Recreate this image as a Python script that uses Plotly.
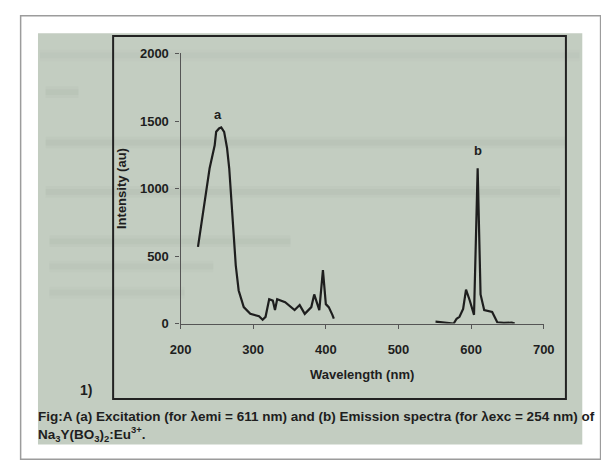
import plotly.graph_objects as go

# Excitation spectrum (a)
exc_wavelength = [224, 231, 240, 247, 249, 253, 256, 260, 264, 267, 271, 276, 280, 287,
                  296, 302, 308, 313, 317, 322, 327, 330, 333, 344, 357, 364, 371, 380,
                  384, 391, 396, 400, 404, 409, 411]
exc_intensity = [568, 820, 1150, 1320, 1420, 1445, 1453, 1420, 1300, 1150, 790, 430, 245, 122,
                 72, 65, 55, 29, 50, 180, 170, 100, 180, 158, 100, 137, 72, 122,
                 216, 100, 396, 144, 122, 65, 36]

# Emission spectrum (b)
emi_wavelength = [551, 565, 576, 580, 584, 589, 593, 598, 604, 609, 613, 618, 624, 629,
                  636, 645, 656, 660]
emi_intensity = [14, 8, 0, 36, 50, 108, 252, 173, 65, 1150, 216, 100, 95, 86,
                 10, 5, 7, 0]

x_ticks = [200, 300, 400, 500, 600, 700]
y_ticks = [0, 500, 1000, 1500, 2000]

W, H = 601, 471


def px(x):
    return x / W


def py(y):
    return 1 - y / H


BOLD = "Liberation Sans, Arial, sans-serif"
INK = "#1e1e1e"

fig = go.Figure()
fig.add_trace(go.Scatter(x=exc_wavelength, y=exc_intensity, mode="lines",
                         line=dict(color=INK, width=2.2), showlegend=False))
fig.add_trace(go.Scatter(x=emi_wavelength, y=emi_intensity, mode="lines",
                         line=dict(color=INK, width=2.2), showlegend=False))

shapes = [
    # card with shadow edge
    dict(type="rect", xref="paper", yref="paper", x0=px(10), x1=px(612), y0=py(467), y1=py(9),
         line=dict(color="#9c9c9c", width=1.5), fillcolor="white", layer="below"),
    # printed page area
    dict(type="rect", xref="paper", yref="paper", x0=px(28), x1=px(593), y0=py(452), y1=py(27),
         line=dict(width=0), fillcolor="#c3cdc1", layer="below"),
]

# faint, blurry show-through bands from the reverse side of the page (x0, x1, y centre, strength)
for x0, x1, yc, a in [(30, 590, 50, 0.04), (36, 70, 88, 0.06), (36, 575, 140, 0.07),
                      (36, 570, 191, 0.07), (40, 290, 242, 0.06), (40, 210, 268, 0.05),
                      (40, 180, 295, 0.05)]:
    for half, k in [(6, 0.5), (3, 0.7)]:
        shapes.append(dict(type="rect", xref="paper", yref="paper", x0=px(x0), x1=px(x1),
                           y0=py(yc + half), y1=py(yc - half), line=dict(width=0),
                           fillcolor=f"rgba(90,105,95,{a * k:.3f})", layer="below"))

# figure frame
shapes.append(dict(type="rect", xref="paper", yref="paper", x0=px(106), x1=px(576),
                   y0=py(405), y1=py(30), line=dict(color="#222222", width=2),
                   fillcolor="rgba(0,0,0,0)", layer="below"))

annotations = [
    dict(text="a", x=252, y=1548, xref="x", yref="y", showarrow=False,
         xanchor="center", yanchor="middle",
         font=dict(family=BOLD, size=13, color=INK, weight="bold")),
    dict(text="b", x=609, y=1283, xref="x", yref="y", showarrow=False,
         xanchor="center", yanchor="middle",
         font=dict(family=BOLD, size=13, color=INK, weight="bold")),
    dict(text="1)", x=px(78), y=py(396), xref="paper", yref="paper", showarrow=False,
         xanchor="center", yanchor="middle",
         font=dict(family=BOLD, size=14, color=INK, weight="bold")),
    dict(text="Fig:A (a) Excitation (for λemi = 611 nm) and (b) Emission spectra (for λexc = 254 nm) of",
         x=px(26), y=py(423), xref="paper", yref="paper", xanchor="left", yanchor="middle",
         showarrow=False, font=dict(family=BOLD, size=13.5, color=INK, weight="bold")),
    dict(text="Na<sub>3</sub>Y(BO<sub>3</sub>)<sub>2</sub>:Eu<sup>3+</sup>.",
         x=px(26), y=py(441), xref="paper", yref="paper", xanchor="left", yanchor="middle",
         showarrow=False, font=dict(family=BOLD, size=13.5, color=INK, weight="bold")),
]

axis_font = dict(family=BOLD, size=13, color=INK, weight="bold")

fig.update_layout(
    width=W, height=H,
    margin=dict(l=0, r=0, t=0, b=0),
    paper_bgcolor="white",
    plot_bgcolor="rgba(0,0,0,0)",
    shapes=shapes,
    annotations=annotations,
    xaxis=dict(domain=[px(176), px(553)], range=[200, 700], tickvals=x_ticks,
               showgrid=False, zeroline=False, showline=True, linecolor="#555555", linewidth=1.2,
               ticks="outside", ticklen=4, tickcolor="#555555", ticklabelstandoff=10,
               tickfont=axis_font,
               title=dict(text="Wavelength (nm)", standoff=13, font=axis_font)),
    yaxis=dict(domain=[py(327), py(48)], range=[0, 2000], tickvals=y_ticks,
               showgrid=False, zeroline=False, showline=True, linecolor="#555555", linewidth=1.2,
               ticks="outside", ticklen=4, tickcolor="#555555", ticklabelstandoff=4,
               tickfont=axis_font,
               title=dict(text="Intensity (au)", standoff=10, font=axis_font)),
)

fig.write_html("out.html", config={"displayModeBar": False},
               post_script="document.body.style.margin='0px';"
                           "document.documentElement.style.overflow='hidden';")
